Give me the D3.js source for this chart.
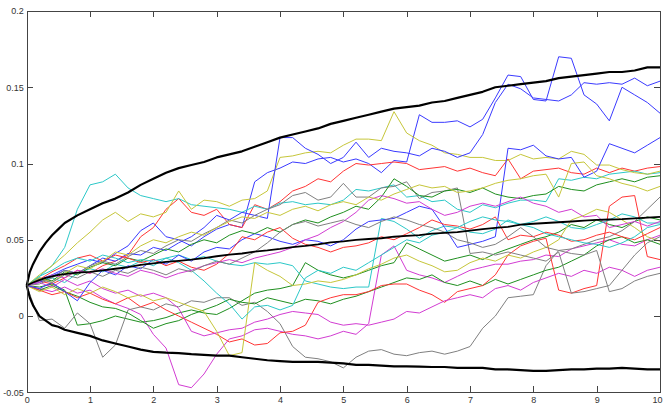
<!DOCTYPE html>
<html>
<head>
<meta charset="utf-8">
<script src="https://d3js.org/d3.v7.min.js"></script>
<style>
  body { margin: 0; background: #fff; }
  .axis text { font-family: "Liberation Sans", Arial, sans-serif; font-size: 9px; fill: #333; }
  .axis path, .axis line { stroke: #444; shape-rendering: crispEdges; }
</style>
</head>
<body>
<script>

// time grid of the simulated paths (step 0.2)
var times = [0,0.2,0.4,0.6,0.8,1,1.2,1.4,1.6,1.8,
             2,2.2,2.4,2.6,2.8,3,3.2,3.4,3.6,3.8,
             4,4.2,4.4,4.6,4.8,5,5.2,5.4,5.6,5.8,
             6,6.2,6.4,6.6,6.8,7,7.2,7.4,7.6,7.8,
             8,8.2,8.4,8.6,8.8,9,9.2,9.4,9.6,9.8,10];

// finer grid for the black mean / envelope curves
var envTimes = [0,0.05,0.1,0.2,0.3,0.4,0.5,0.6,
                0.8,1,1.2,1.4,1.6,1.8,
                2,2.2,2.4,2.6,2.8,3,3.2,3.4,3.6,3.8,
                4,4.2,4.4,4.6,4.8,5,5.2,5.4,5.6,5.8,
                6,6.2,6.4,6.6,6.8,7,7.2,7.4,7.6,7.8,
                8,8.2,8.4,8.6,8.8,9,9.2,9.4,9.6,9.8,10];

var upperBand = [.020,.029,.034,.042,.048,.053,.057,.061,
                 .066,.070,.074,.077,.081,.086,
                 .090,.094,.097,.099,.101,.104,.106,.108,.111,.114,
                 .117,.119,.121,.123,.126,.128,.130,.132,.134,.136,
                 .137,.138,.140,.141,.143,.145,.147,.150,.151,.152,
                 .153,.154,.156,.157,.158,.159,.160,.160,.161,.163,.163];

var meanLine = [.020,.021,.022,.0235,.025,.026,.027,.0275,
                .0285,.029,.030,.031,.032,.0335,
                .0345,.0355,.0362,.037,.038,.0392,.0402,.041,.0422,.043,
                .044,.0452,.046,.047,.0483,.049,.050,.0505,.051,.052,
                .0525,.053,.054,.0545,.055,.056,.057,.0578,.0585,.060,
                .0605,.061,.0615,.062,.0625,.063,.0633,.0635,.064,.0645,.065];

var lowerBand = [.020,.012,.007,.000,-.003,-.006,-.007,-.009,
                 -.011,-.013,-.016,-.018,-.020,-.022,
                 -.0235,-.024,-.0243,-.025,-.0255,-.026,-.026,-.027,-.028,-.029,
                 -.0295,-.030,-.030,-.030,-.0305,-.031,-.032,-.032,-.0325,-.033,
                 -.033,-.0332,-.0334,-.0334,-.034,-.034,-.034,-.035,-.035,-.0355,
                 -.036,-.036,-.0355,-.035,-.035,-.0345,-.0345,-.034,-.0345,-.035,-.035];

// the simulated paths
var blue1 = [.020,.024,.027,.031,.034,.037,.035,.041,.046,.056,
             .061,.052,.050,.046,.052,.057,.060,.058,.088,.094,
             .097,.101,.100,.103,.104,.101,.103,.100,.094,.102,
             .101,.132,.127,.127,.128,.124,.129,.143,.158,.157,
             .142,.141,.170,.169,.145,.139,.128,.150,.145,.140,.133];
var blue2 = [.020,.022,.026,.030,.028,.033,.038,.036,.041,.040,
             .045,.043,.048,.052,.058,.066,.063,.068,.066,.064,
             .117,.117,.110,.106,.100,.104,.114,.104,.110,.108,
             .107,.105,.110,.108,.104,.107,.119,.140,.152,.149,
             .143,.142,.141,.145,.153,.152,.153,.152,.156,.151,.154];
var blue3 = [.020,.018,.022,.016,.010,.022,.030,.027,.033,.031,
             .037,.034,.040,.036,.042,.045,.044,.050,.054,.052,
             .049,.047,.050,.049,.046,.050,.057,.062,.063,.064,
             .068,.072,.070,.058,.045,.047,.049,.052,.110,.109,
             .112,.105,.103,.104,.091,.095,.113,.110,.107,.112,.117];

var red1 = [.020,.023,.021,.025,.030,.028,.033,.036,.040,.052,
            .058,.070,.077,.068,.066,.070,.060,.058,.073,.070,
            .075,.082,.085,.090,.088,.095,.100,.099,.100,.101,
            .100,.096,.097,.098,.095,.097,.094,.092,.103,.090,
            .095,.096,.097,.094,.093,.097,.094,.097,.095,.097,.098];
var red2 = [.020,.017,.014,.016,.012,.015,.011,.008,.012,.006,
            .009,.004,.000,-.004,-.008,-.012,-.017,-.015,-.019,-.018,
            -.011,-.010,-.006,.009,.012,.014,.014,.016,.020,.021,
            .021,.017,.014,.009,.016,.018,.020,.027,.040,.046,
            .049,.051,.017,.015,.018,.020,.072,.078,.079,.039,.037];
var red3 = [.020,.024,.029,.033,.038,.040,.036,.040,.038,.035,
            .037,.033,.036,.032,.030,.034,.041,.052,.050,.055,
            .058,.051,.047,.045,.042,.045,.046,.048,.052,.050,
            .054,.058,.063,.060,.059,.057,.060,.065,.050,.053,
            .052,.055,.053,.049,.050,.053,.055,.052,.050,.054,.058];

var cyan1 = [.020,.026,.033,.045,.070,.086,.088,.093,.084,.079,
             .077,.075,.077,.073,.072,.071,.070,.068,.072,.070,
             .074,.075,.073,.074,.073,.076,.083,.082,.084,.086,
             .078,.079,.075,.076,.070,.068,.073,.071,.074,.076,
             .076,.075,.090,.089,.091,.090,.093,.094,.095,.093,.094];
var cyan2 = [.020,.023,.025,.022,.028,.031,.029,.034,.032,.036,
             .033,.038,.040,.037,.039,.036,.034,.033,.035,.034,
             .035,.033,.023,.021,.019,.018,.019,.019,.064,.062,
             .057,.051,.056,.059,.058,.055,.054,.057,.063,.060,
             .062,.065,.062,.058,.057,.060,.063,.067,.065,.061,.061];
var cyan3 = [.020,.026,.030,.035,.038,.036,.040,.038,.035,.037,
             .036,.038,.035,.030,.023,.015,.008,-.002,.006,.007,
             .004,.007,.025,.030,.028,.032,.030,.035,.040,.045,
             .050,.048,.053,.055,.058,.062,.065,.063,.062,.060,
             .058,.054,.052,.050,.048,.047,.045,.048,.052,.058,.060];

var magenta1 = [.020,.018,.016,.019,.015,.017,.012,.008,.005,.001,
                -.012,-.021,-.045,-.047,-.038,-.025,-.015,-.013,-.009,-.008,
                -.010,-.012,-.013,-.015,-.013,-.010,-.012,-.005,.040,.046,
                .030,.027,.025,.022,.026,.030,.032,.034,.034,.036,
                .037,.040,.039,.044,.046,.048,.050,.047,.046,.050,.053];
var magenta2 = [.020,.022,.019,.024,.020,.023,.018,.015,.017,.013,
                .015,.012,.005,-.010,-.013,-.011,-.009,-.008,-.004,-.002,
                .001,.003,.002,.001,-.004,-.006,-.005,-.006,-.004,-.002,
                .003,.002,.006,.010,.012,.014,.012,.018,.020,.017,
                .022,.025,.028,.026,.030,.028,.032,.030,.026,.030,.032];
var magenta3 = [.020,.023,.027,.025,.030,.028,.031,.028,.026,.030,
                .028,.025,.028,.030,.033,.035,.037,.035,.038,.040,
                .042,.045,.050,.053,.058,.062,.068,.076,.079,.077,
                .074,.075,.070,.066,.068,.072,.074,.072,.075,.078,
                .074,.072,.068,.070,.065,.066,.058,.060,.062,.059,.062];

var yellow1 = [.020,.027,.033,.040,.048,.055,.063,.068,.062,.067,
               .065,.068,.082,.070,.076,.075,.072,.076,.077,.082,
               .104,.105,.107,.108,.107,.112,.116,.116,.115,.134,
               .120,.115,.112,.107,.106,.104,.104,.102,.102,.106,
               .103,.104,.103,.108,.106,.099,.099,.096,.094,.093,.095];
var yellow2 = [.020,.016,.019,.014,.018,.015,.019,.016,.012,.014,
               .010,.012,.009,.006,.003,-.010,-.026,-.024,.035,.030,
               .026,.020,.021,.023,.022,.024,.027,.031,.034,.038,
               .040,.036,.033,.029,.030,.035,.038,.036,.040,.038,
               .042,.045,.050,.063,.066,.070,.068,.063,.058,.052,.049];
var yellow3 = [.020,.025,.022,.028,.033,.031,.036,.042,.040,.046,
               .050,.048,.052,.055,.053,.058,.062,.065,.064,.068,
               .066,.070,.072,.069,.073,.075,.073,.078,.076,.080,
               .083,.086,.084,.085,.081,.082,.084,.087,.089,.090,
               .092,.093,.078,.100,.101,.092,.090,.087,.085,.082,.085];

var green1 = [.020,.019,.021,.017,-.006,-.005,-.003,.000,-.002,-.004,
              -.003,-.001,.002,.004,.002,.001,.005,.010,.015,.017,
              .018,.020,.035,.030,.027,.025,.027,.030,.033,.035,
              .048,.044,.040,.036,.038,.040,.037,.041,.044,.047,
              .050,.052,.055,.060,.058,.063,.060,.058,.062,.065,.063];
var green2 = [.020,.017,.020,.016,.013,.009,.006,.005,.002,-.003,
              -.008,-.005,-.003,.001,.004,.007,.011,.009,.008,.012,
              .010,.008,.011,.010,.008,.011,.013,.016,.019,.022,
              .025,.024,.027,.022,.020,.023,.020,.024,.021,.024,
              .027,.030,.032,.036,.040,.046,.050,.052,.048,.050,.047];
var green3 = [.020,.025,.023,.029,.027,.032,.035,.033,.038,.036,
              .040,.044,.042,.047,.050,.048,.053,.056,.054,.058,
              .055,.060,.063,.061,.065,.068,.072,.070,.078,.090,
              .085,.079,.078,.082,.083,.081,.084,.080,.078,.077,
              .079,.080,.085,.083,.082,.086,.088,.090,.088,.091,.092];

var gray1 = [.020,-.003,-.002,-.008,.002,-.005,-.027,-.019,.004,.006,
             .004,.008,.006,.010,.009,.012,.012,.007,.009,.003,
             -.005,-.020,-.027,-.028,-.030,-.034,-.027,-.023,-.022,-.025,
             -.026,-.024,-.023,-.025,-.023,-.020,-.008,.000,.012,.013,
             .014,.033,.043,.044,.047,.050,.052,.056,.062,.070,.078];
var gray2 = [.020,.021,.025,.030,.028,.033,.036,.034,.039,.043,
             .041,.046,.050,.049,.054,.058,.063,.061,.066,.070,
             .073,.079,.081,.076,.078,.087,.078,.078,.084,.085,
             .088,.077,.081,.082,.084,.041,.042,.040,.042,.040,
             .038,.036,.042,.015,.016,.018,.020,.030,.040,.048,.052];
var gray3 = [.020,.024,.022,.027,.025,.029,.026,.030,.028,.032,
             .030,.027,.031,.029,.033,.036,.034,.038,.042,.048,
             .055,.060,.062,.059,.061,.063,.060,.058,.062,.065,
             .063,.060,.058,.055,.050,.048,.045,.047,.052,.058,
             .052,.045,.043,.041,.040,.043,.016,.018,.023,.026,.028];

var paths = [blue1, green1, red1, cyan1, magenta1, yellow1, gray1,
             blue2, green2, red2, cyan2, magenta2, yellow2, gray2,
             blue3, green3, red3, cyan3, magenta3, yellow3, gray3];
var pathColors = ["#3a3aff", "#1f8f1f", "#ff3535", "#2cc8c8", "#d23cd2", "#c6c63a", "#808080"];

// tick labels
var xTicks = [0,1,2,3,4,5,6,7,8,9,10];
var xTickLabels = ["0","1","2","3","4","5","6","7","8","9","10"];
var yTicks = [-0.05,0,0.05,0.1,0.15,0.2];
var yTickLabels = ["-0.05","0","0.05","0.1","0.15","0.2"];

var w = 664;
var h = 405;

var xScale = d3.scaleLinear().domain([0, 10]).range([26.7, 660]);
var yScale = d3.scaleLinear().domain([-0.05, 0.2]).range([392.3, 11]);

var svg = d3.select("body")
            .append("svg")
            .attr("width", w)
            .attr("height", h);

// line for the paths on the coarse grid
var pathLine = d3.line()
                 .x(function(d, i) { return xScale(times[i]); })
                 .y(function(d) { return yScale(d); });

// line for the black curves on the fine grid
var envLine = d3.line()
                .x(function(d, i) { return xScale(envTimes[i]); })
                .y(function(d) { return yScale(d); });

svg.selectAll(".path")
   .data(paths)
   .enter()
   .append("path")
   .attr("class", "path")
   .attr("d", pathLine)
   .attr("fill", "none")
   .attr("stroke", function(d, i) { return pathColors[i % 7]; })
   .attr("stroke-width", 1);

// black mean and envelopes on top
svg.selectAll(".band")
   .data([upperBand, meanLine, lowerBand])
   .enter()
   .append("path")
   .attr("class", "band")
   .attr("d", envLine)
   .attr("fill", "none")
   .attr("stroke", "#000")
   .attr("stroke-width", function(d, i) { return i == 1 ? 1.8 : 2.2; })
   .attr("stroke-linejoin", "round");

// bottom axis with labels
var bottomAxis = svg.append("g")
   .attr("class", "axis")
   .attr("transform", "translate(0," + yScale(-0.05) + ")")
   .call(d3.axisBottom(xScale)
           .tickValues(xTicks)
           .tickFormat(function(d, i) { return xTickLabels[i]; })
           .tickSizeInner(-6)
           .tickSizeOuter(0)
           .tickPadding(4.5));

// last label sits a little left in the original
bottomAxis.selectAll("text").filter(function(d) { return d == 10; }).attr("dx", -3);

// top axis, ticks only
svg.append("g")
   .attr("class", "axis")
   .attr("transform", "translate(0," + yScale(0.2) + ")")
   .call(d3.axisTop(xScale)
           .tickValues(xTicks)
           .tickFormat("")
           .tickSizeInner(-6)
           .tickSizeOuter(0));

// left axis with labels
svg.append("g")
   .attr("class", "axis")
   .attr("transform", "translate(" + xScale(0) + ",0)")
   .call(d3.axisLeft(yScale)
           .tickValues(yTicks)
           .tickFormat(function(d, i) { return yTickLabels[i]; })
           .tickSizeInner(-6)
           .tickSizeOuter(0)
           .tickPadding(3));

// right axis, ticks only
svg.append("g")
   .attr("class", "axis")
   .attr("transform", "translate(" + xScale(10) + ",0)")
   .call(d3.axisRight(yScale)
           .tickValues(yTicks)
           .tickFormat("")
           .tickSizeInner(-6)
           .tickSizeOuter(0));

</script>
</body>
</html>
